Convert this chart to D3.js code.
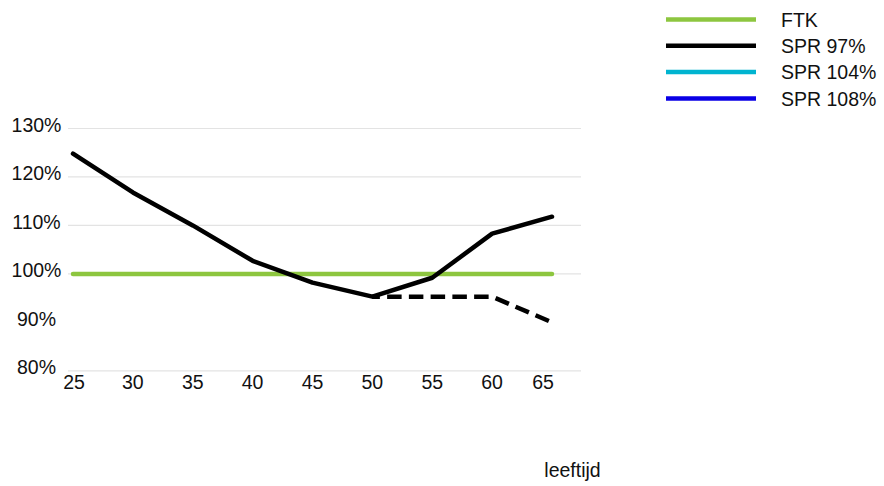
<!DOCTYPE html>
<html><head><meta charset="utf-8">
<script src="https://cdn.jsdelivr.net/npm/d3@7"></script>
<style>body{margin:0;background:#fff;} text{font-family:"Liberation Sans",Arial,sans-serif;}</style>
</head><body><svg id="c" width="884" height="486"></svg>
<script>
const ages = [25, 30, 35, 40, 45, 50, 55, 60, 65];
const ftk = [100, 100, 100, 100, 100, 100, 100, 100, 100];
const spr97 = [124.8, 116.8, 110.0, 102.7, 98.2, 95.3, 99.2, 108.3, 111.8];
const spr97Dashed = [null, null, null, null, null, 95.3, 95.3, 95.3, 90.0];
const spr104 = [];
const spr108 = [];
const yTicks = [80, 90, 100, 110, 120, 130];
const gridTicks = [80, 100, 110, 120, 130];
const legendNames = ["FTK", "SPR 97%", "SPR 104%", "SPR 108%"];
const legendColors = ["#8dc63f", "#000000", "#00b4d0", "#0a00e6"];

const svg = d3.select("#c");
const x = d3.scaleLinear().domain([25, 65]).range([73, 552]);
const y = d3.scaleLinear().domain([80, 130]).range([370.8, 128.5]);
const FS = 19.5;

// gridlines
svg.append("g").selectAll("line").data(gridTicks).join("line")
  .attr("x1", 68).attr("x2", 581)
  .attr("y1", d => y(d)).attr("y2", d => y(d))
  .attr("stroke", "#e3e3e3").attr("stroke-width", 1.2);

// y labels
svg.append("g").selectAll("text").data(yTicks).join("text")
  .attr("x", 36.5).attr("y", d => y(d) + 3.5)
  .attr("text-anchor", "middle").attr("font-size", FS).attr("fill", "#111")
  .text(d => d + "%");

// x labels
svg.append("g").selectAll("text").data(ages).join("text")
  .attr("x", d => x(d) - (d === 65 ? 9 : 0) + (d === 25 ? 1 : 0)).attr("y", 388.5)
  .attr("text-anchor", "middle").attr("font-size", FS).attr("fill", "#111")
  .text(d => d);

svg.append("text").attr("x", 572.5).attr("y", 477).attr("text-anchor", "middle")
  .attr("font-size", FS).attr("fill", "#111").text("leeftijd");

const line = d3.line().defined(d => d[1] != null).x(d => x(d[0])).y(d => y(d[1]));
const pts = arr => ages.map((a, i) => [a, arr[i] === undefined ? null : arr[i]]);

svg.append("path").datum(pts(ftk)).attr("d", line)
  .attr("fill", "none").attr("stroke", legendColors[0]).attr("stroke-width", 4.5).attr("stroke-linecap", "round");
svg.append("path").datum(pts(spr104)).attr("d", line)
  .attr("fill", "none").attr("stroke", legendColors[2]).attr("stroke-width", 4.5);
svg.append("path").datum(pts(spr108)).attr("d", line)
  .attr("fill", "none").attr("stroke", legendColors[3]).attr("stroke-width", 4.5);
svg.append("path").datum(pts(spr97Dashed)).attr("d", line)
  .attr("fill", "none").attr("stroke", "#000").attr("stroke-width", 4.5)
  .attr("stroke-dasharray", "14.5,7.25").attr("stroke-dashoffset", 7).attr("stroke-linejoin", "round");
svg.append("path").datum(pts(spr97)).attr("d", line)
  .attr("fill", "none").attr("stroke", "#000").attr("stroke-width", 4.5)
  .attr("stroke-linejoin", "round").attr("stroke-linecap", "round");

// legend
const lg = svg.append("g").selectAll("g").data(legendNames).join("g")
  .attr("transform", (d, i) => `translate(0,${19.5 + i * 26.3})`);
lg.append("line").attr("x1", 666).attr("x2", 756).attr("y1", 0).attr("y2", 0)
  .attr("stroke", (d, i) => legendColors[i]).attr("stroke-width", 4.5);
lg.append("text").attr("x", 781).attr("y", 7.3)
  .attr("font-size", FS).attr("fill", "#111").text(d => d);
</script></body></html>
